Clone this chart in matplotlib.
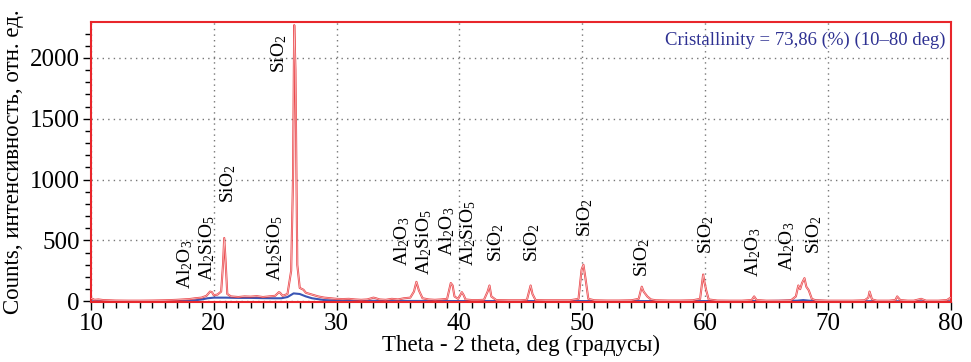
import matplotlib
matplotlib.use("Agg")
import matplotlib.pyplot as plt
from matplotlib.ticker import MultipleLocator

# Diffraction pattern (2-theta, counts)
two_theta = [10.0, 10.3, 10.6, 11.0, 11.5, 12, 13, 14, 15, 16, 17, 17.5, 18, 18.5,
             19, 19.4, 19.7, 19.85, 20.0, 20.3, 20.6, 20.75, 20.85, 20.95, 21.1, 21.4,
             22, 22.5, 23, 23.5, 24, 24.5, 25, 25.3, 25.4, 25.6, 26.0, 26.3, 26.45,
             26.55, 26.65, 26.8, 27.0, 27.3, 27.5, 28, 28.5, 29, 29.5, 30, 30.5, 31,
             31.5, 32, 32.5, 33.0, 33.2, 33.5, 34, 34.5, 35, 35.5, 36.0, 36.3, 36.5,
             36.7, 37.0, 37.5, 38, 38.5, 39.0, 39.3, 39.45, 39.6, 39.9, 40.2, 40.35,
             40.5, 41, 41.5, 42.0, 42.3, 42.45, 42.6, 43, 44, 45, 45.5, 45.8, 45.95,
             46.2, 47, 48, 49, 49.7, 49.95, 50.1, 50.25, 50.5, 51, 52, 53, 54, 54.6,
             54.85, 55.0, 55.3, 55.6, 56, 57, 58, 59, 59.6, 59.85, 59.95, 60.1, 60.3,
             61, 62, 63, 63.8, 64.0, 64.2, 65, 66, 67, 67.4, 67.6, 67.75, 67.9, 68.1,
             68.25, 68.45, 68.7, 69, 70, 71, 72, 73, 73.3, 73.4, 73.6, 74, 75, 75.5,
             75.65, 75.9, 76.5, 77, 77.6, 78, 79, 79.7, 80]
counts = [25, 12, 15, 10, 8, 6, 5, 5, 6, 8, 12, 15, 18, 25,
          30, 45, 80, 75, 50, 55, 80, 300, 520, 350, 60, 40,
          35, 40, 38, 42, 35, 40, 45, 75, 70, 45, 60, 250, 1000,
          2270, 1900, 300, 110, 95, 70, 55, 40, 30, 25, 20, 18, 20,
          15, 12, 15, 30, 25, 15, 12, 20, 15, 25, 30, 80, 160,
          90, 25, 15, 12, 15, 20, 150, 130, 40, 20, 75, 50,
          15, 10, 10, 12, 80, 130, 40, 10, 8, 8, 12, 130, 60,
          10, 8, 8, 8, 20, 260, 300, 200, 20, 8, 6, 6, 8, 20,
          120, 80, 40, 15, 8, 6, 6, 8, 20, 220, 160, 90, 15,
          6, 5, 5, 10, 40, 10, 5, 5, 8, 40, 130, 100, 150, 190,
          120, 90, 20, 8, 5, 5, 5, 8, 30, 80, 15, 5, 5, 10,
          40, 10, 5, 5, 20, 5, 5, 10, 30]

# Amorphous background (blue)
bg_theta = [10, 15, 18, 19, 19.5, 20, 21, 22, 23, 24, 25, 25.5, 26, 26.5, 27, 27.5,
            28, 29, 30, 35, 40, 45, 50, 55, 60, 65, 67.5, 68, 68.5, 70, 75, 80]
bg_counts = [0, 0, 2, 15, 25, 30, 30, 28, 28, 26, 25, 25, 35, 65, 60, 40,
             25, 10, 5, 3, 2, 2, 2, 2, 2, 2, 5, 10, 5, 2, 0, 0]

# Phase labels: text, x position, bottom of label (counts)
phase_labels = ["Al$_2$O$_3$", "Al$_2$SiO$_5$", "SiO$_2$", "Al$_2$SiO$_5$", "SiO$_2$",
                "Al$_2$O$_3$", "Al$_2$SiO$_5$", "Al$_2$O$_3$", "Al$_2$SiO$_5$", "SiO$_2$",
                "SiO$_2$", "SiO$_2$", "SiO$_2$", "SiO$_2$", "Al$_2$O$_3$", "Al$_2$O$_3$",
                "SiO$_2$"]
label_x = [17.65, 19.5, 21.15, 24.97, 25.3, 35.3, 37.1, 38.97, 40.7, 43.0,
           45.9, 50.2, 54.9, 60.1, 63.9, 66.7, 68.9]
label_y = [98, 165, 810, 165, 1880, 287, 220, 370, 287, 320,
           320, 525, 197, 385, 197, 246, 385]

plt.rcParams["font.family"] = ["Liberation Serif", "DejaVu Serif"]
plt.rcParams["mathtext.fontset"] = "custom"
plt.rcParams["mathtext.rm"] = "Liberation Serif"
plt.rcParams["mathtext.it"] = "Liberation Serif:italic"

fig = plt.figure(figsize=(9.71, 3.62), dpi=100)
ax = fig.add_axes([0.0937, 0.166, 0.8853, 0.773])

ax.plot(two_theta, counts, color="#e8262b", lw=1.5, alpha=0.85, zorder=3)
ax.plot(two_theta, counts, color="#f7c4c4", lw=0.5, zorder=4)
ax.plot(bg_theta, bg_counts, color="#3a55b4", lw=1.5, zorder=2)

for txt, x, y in zip(phase_labels, label_x, label_y):
    ax.text(x, y, txt, rotation=90, ha="center", va="bottom", fontsize=14)

ax.text(0.994, 0.965, "Cristallinity = 73,86 (%) (10\u201380 deg)", transform=ax.transAxes,
        ha="right", va="top", fontsize=13.5, color="#2e3192")

ax.set_xlim(10, 80)
ax.set_ylim(-5, 2295)
ax.xaxis.set_major_locator(MultipleLocator(10))
ax.xaxis.set_minor_locator(MultipleLocator(1))
ax.yaxis.set_major_locator(MultipleLocator(500))
ax.yaxis.set_minor_locator(MultipleLocator(100))
ax.tick_params(which="major", length=6, width=1, labelsize=18, pad=2)
ax.tick_params(which="minor", length=4, width=1)
ax.grid(True, which="major", linestyle=(0, (1, 3)), color="#777777", lw=1)

for s in ax.spines.values():
    s.set_color("#e8262b")
    s.set_linewidth(1.5)

ax.set_xlabel("Theta - 2 theta, deg (градусы)", fontsize=16.5, labelpad=0)
ax.set_ylabel("Counts, интенсивность, отн. ед.", fontsize=16.5, labelpad=4)

fig.savefig("out.png", dpi=100)
